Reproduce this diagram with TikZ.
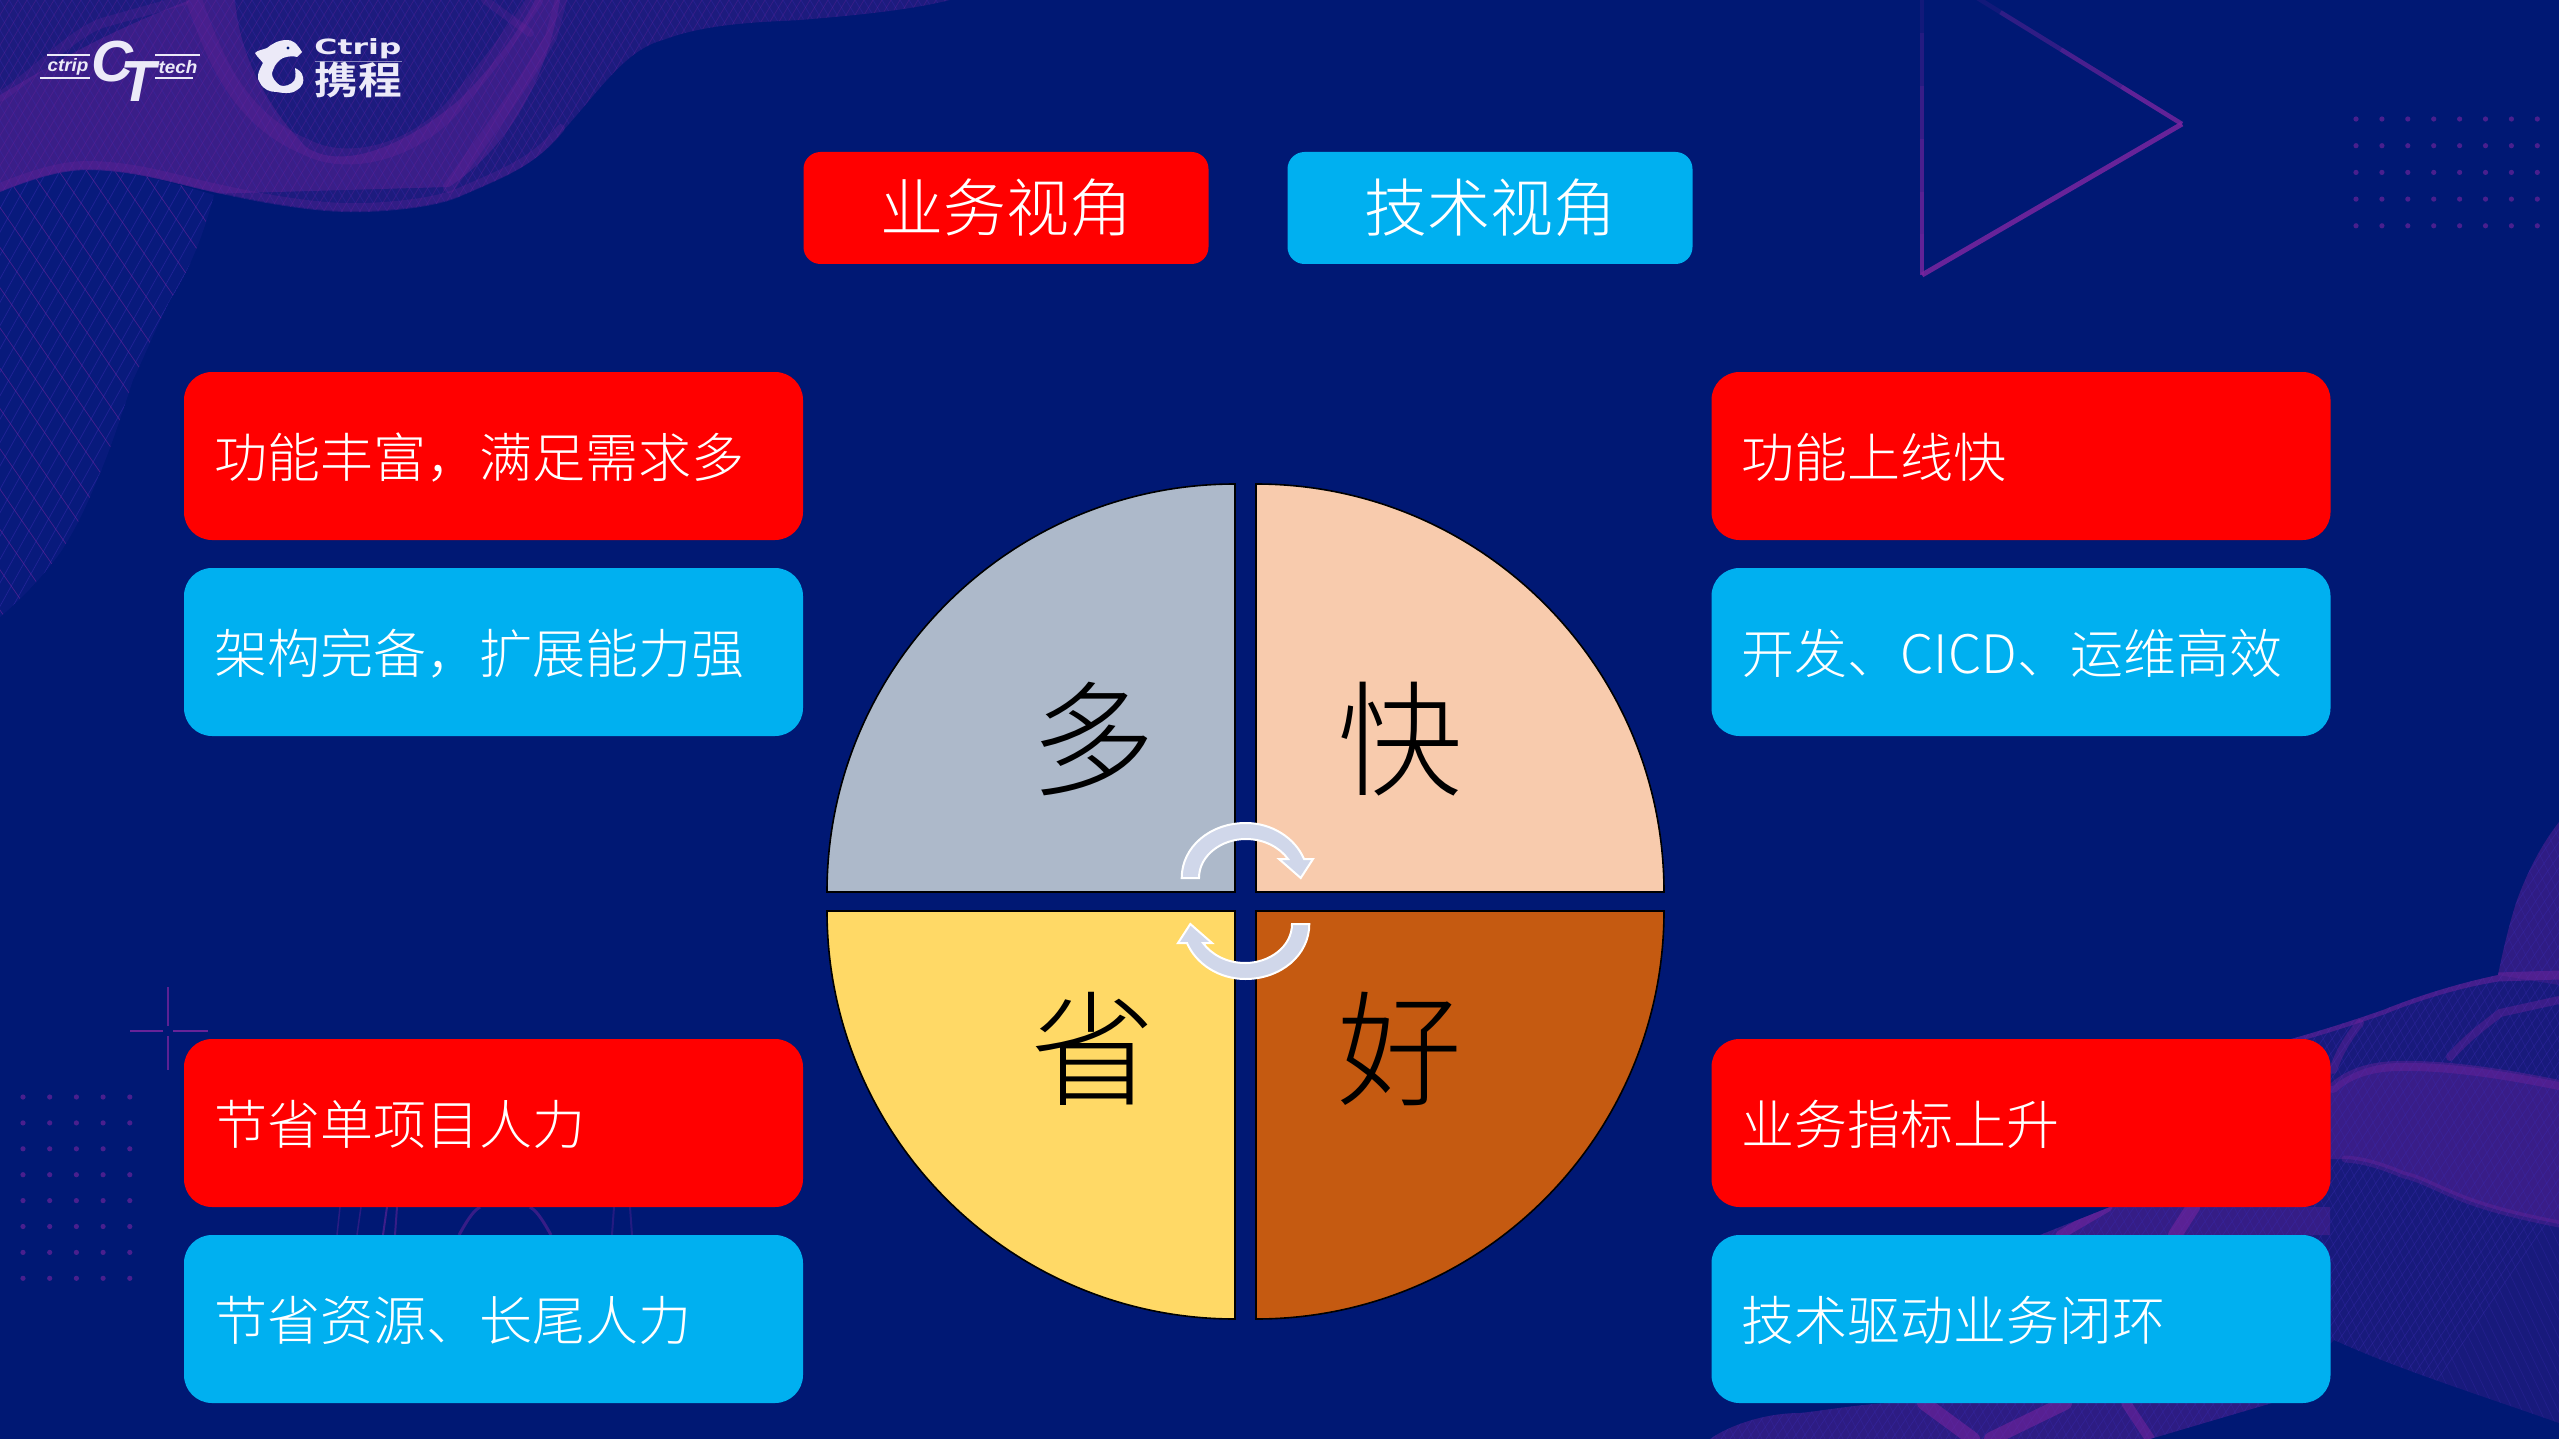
\documentclass[tikz,border=0pt]{standalone}
\usepackage{fontspec}
\setmainfont{Noto Sans CJK SC Light}[BoldFont={Noto Sans CJK SC Bold}]
\newfontfamily\logofont{Liberation Sans}
\newfontfamily\widefont{DejaVu Sans}
\usetikzlibrary{calc}
\definecolor{bgblue}{HTML}{001874}
\definecolor{wave}{HTML}{7A25A0}
\definecolor{waveb}{HTML}{3A2CB0}
\definecolor{boxred}{HTML}{FF0000}
\definecolor{boxblue}{HTML}{00B0F0}
\definecolor{qa}{HTML}{ADB9CA}
\definecolor{qb}{HTML}{F8CBAD}
\definecolor{qc}{HTML}{FFD966}
\definecolor{qd}{HTML}{C55A11}
\definecolor{arrowfill}{HTML}{D0D7EA}
\definecolor{logowhite}{HTML}{ECEAF8}
\tikzset{
  sidebox/.style={rounded corners=28pt,minimum height=168pt,text width=559pt,inner xsep=30pt,inner ysep=0pt,
    text height=50pt,text depth=6.8pt,
    align=left,text=white,font=\fontsize{53}{60}\selectfont},
  redbox/.style={sidebox,fill=boxred},
  bluebox/.style={sidebox,fill=boxblue},
  titlebox/.style={rounded corners=17pt,minimum width=405pt,minimum height=112pt,inner sep=0pt,text=white,
    font=\fontsize{63}{70}\selectfont},
  quad/.style={draw=black,line width=1.6pt},
  bigchar/.style={text=black,inner sep=0pt,font=\fontsize{125}{130}\selectfont},
  turn/.style={fill=arrowfill,draw=white,line width=2pt,line join=miter},
  band/.style={draw=wave,line cap=round},
  dotmark/.style={fill=wave,draw=none},
  logotext/.style={text=logowhite,inner sep=0pt},
  bar/.style={draw=logowhite,line width=2.6pt}
}
\newcommand{\hatchlines}[6]{% from, to, step, slope dx, colour, opacity
  \pgfmathsetmacro{\hnext}{#1+#3}
  \foreach \hx in {#1,\hnext,...,#2}{
    \draw[#5,opacity=#6,line width=.7pt] (\hx,0) -- (\hx+#4,1439);
  }
}
\begin{document}
\begin{tikzpicture}[x=1pt,y=-1pt]
\useasboundingbox (0,0) rectangle (2559,1439);
\fill[bgblue] (0,0) rectangle (2559,1439);

% ---------- top-left wave
\def\tlshape{(0,0) -- (0,192) .. controls (30,180) and (60,170) .. (87,170) .. controls (130,170) and (170,182) .. (204,190) .. controls (260,203) and (320,214) .. (367,212) .. controls (410,210) and (440,205) .. (459,197) .. controls (510,175) and (535,165) .. (561,133) .. controls (600,90) and (625,50) .. (663,40) .. controls (710,22) and (770,22) .. (800,20) .. controls (860,15) and (910,10) .. (950,0) -- cycle}
\fill[wave,opacity=.24] \tlshape;
\begin{scope}
  \clip \tlshape;
  \fill[wave,opacity=.32] (0,95) .. controls (60,60) and (100,35) .. (190,0) -- (235,0) .. controls (240,60) and (270,110) .. (306,147) .. controls (340,170) and (400,150) .. (459,100) .. controls (490,70) and (520,30) .. (535,0) -- (560,0) .. controls (550,60) and (520,140) .. (449,187) -- (0,200) -- cycle;
  \hatchlines{-900}{950}{9}{860}{waveb}{.35}
  \hatchlines{0}{1800}{9}{-860}{wave}{.30}
  \draw[band,line width=16pt,opacity=.22] (194,0) .. controls (215,60) and (240,120) .. (306,147) .. controls (350,170) and (420,150) .. (459,100) .. controls (490,65) and (515,30) .. (535,0);
  \draw[band,line width=12pt,opacity=.22] (449,187) .. controls (490,130) and (520,90) .. (551,37) -- (561,0);
  \draw[band,line width=8pt,opacity=.2] (485,0) -- (530,33);
  \draw[band,line width=10pt,opacity=.2] (0,97) .. controls (40,70) and (70,35) .. (102,23) -- (184,0);
\end{scope}
\draw[band,line width=8pt,opacity=.22] (0,187) .. controls (30,175) and (60,165) .. (87,165) .. controls (130,165) and (170,177) .. (204,185) .. controls (260,198) and (320,209) .. (367,207) .. controls (410,205) and (440,200) .. (459,192) .. controls (510,170) and (535,160) .. (561,128);

% ---------- left mesh below the wave
\def\lmshape{(0,192) .. controls (30,180) and (60,170) .. (87,170) .. controls (130,170) and (170,182) .. (214,195) .. controls (205,230) and (190,270) .. (170,300) .. controls (155,330) and (145,355) .. (133,380) .. controls (120,420) and (110,450) .. (100,473) .. controls (85,510) and (75,530) .. (60,553) .. controls (40,580) and (20,600) .. (0,617) -- cycle}
\fill[waveb,opacity=.14] \lmshape;
\begin{scope}
  \clip \lmshape;
  \hatchlines{-300}{1400}{13}{-800}{waveb}{.5}
  \hatchlines{-900}{220}{28}{1000}{wave}{.55}
\end{scope}

% ---------- bottom-right waves
\def\brshape{(2110,1207) -- (2291,1039) .. controls (2330,1028) and (2360,1018) .. (2383,1010) .. controls (2420,995) and (2460,983) .. (2498,975) .. controls (2505,940) and (2512,915) .. (2517,900) .. controls (2530,865) and (2545,840) .. (2559,822) -- (2559,1423) .. controls (2480,1395) and (2400,1370) .. (2334,1340) -- (2272,1403) -- (2150,1439) -- (1710,1439) .. controls (1730,1425) and (1765,1413) .. (1800,1413) .. controls (1830,1410) and (1880,1400) .. (1924,1403) -- (2040,1235) -- cycle}
\fill[wave,opacity=.2] \brshape;
\begin{scope}
  \clip \brshape;
  \fill[wave,opacity=.34] (2333,1086) .. controls (2350,1072) and (2375,1063) .. (2400,1063) .. controls (2450,1062) and (2510,1072) .. (2559,1082) -- (2559,1224) .. controls (2530,1218) and (2500,1212) .. (2467,1200) .. controls (2440,1190) and (2420,1178) .. (2404,1175) .. controls (2385,1167) and (2365,1160) .. (2345,1159) -- (2300,1159) -- (2300,1086) -- cycle;
  \fill[wave,opacity=.24] (2498,975) .. controls (2505,940) and (2512,915) .. (2517,900) .. controls (2530,865) and (2545,840) .. (2559,822) -- (2559,985) -- cycle;
  \fill[wave,opacity=.3] (2040,1235) -- (2108,1207) -- (2330,1207) -- (2330,1235) -- cycle;
  \fill[wave,opacity=.22] (1710,1439) .. controls (1730,1425) and (1765,1413) .. (1800,1413) .. controls (1830,1410) and (1880,1400) .. (1924,1403) -- (2272,1403) -- (2150,1439) -- cycle;
  \hatchlines{1200}{3400}{9}{-1000}{waveb}{.4}
  \hatchlines{900}{2600}{9}{700}{waveb}{.3}
  \draw[band,line width=9pt,opacity=.45] (2291,1039) .. controls (2330,1028) and (2360,1018) .. (2383,1010) .. controls (2420,995) and (2460,983) .. (2498,977) -- (2559,975);
  \draw[band,line width=8pt,opacity=.35] (2333,1070) .. controls (2340,1050) and (2350,1035) .. (2360,1023);
  \draw[band,line width=8pt,opacity=.35] (2450,1057) .. controls (2470,1035) and (2485,1025) .. (2500,1013) -- (2559,1000);
  \draw[band,line width=10pt,opacity=.35] (2333,1088) .. controls (2350,1072) and (2375,1066) .. (2400,1066) .. controls (2450,1065) and (2510,1075) .. (2559,1085);
  \draw[band,line width=7pt,opacity=.28] (2345,1159) .. controls (2365,1160) and (2385,1167) .. (2404,1175) .. controls (2420,1178) and (2440,1190) .. (2467,1200) .. controls (2500,1212) and (2530,1218) .. (2559,1224);
  \draw[band,line width=9pt,opacity=.55] (2060,1235) -- (2108,1207);
  \draw[band,line width=14pt,opacity=.55] (2175,1235) -- (2193,1207);
  \draw[band,line width=14pt,opacity=.55] (1924,1403) -- (1973,1439);
  \draw[band,line width=14pt,opacity=.55] (1991,1439) -- (2065,1403);
  \draw[band,line width=10pt,opacity=.5] (2126,1403) -- (2150,1439);
\end{scope}

% ---------- faint arcs behind the left boxes
\draw[wave,opacity=.35,line width=1.5pt] (337,1235) -- (340,1207);
\draw[wave,opacity=.35,line width=1.5pt] (357,1235) -- (361,1207);
\draw[wave,opacity=.5,line width=2pt] (383,1235) -- (387,1207);
\draw[wave,opacity=.45,line width=2pt] (395,1235) -- (397,1207);
\draw[wave,opacity=.45,line width=3pt] (459,1235) .. controls (470,1215) and (475,1210) .. (480,1207);
\draw[wave,opacity=.45,line width=3pt] (551,1235) .. controls (540,1215) and (535,1210) .. (530,1207);
\draw[wave,opacity=.3,line width=2pt] (612,1235) -- (614,1207);
\draw[wave,opacity=.3,line width=2pt] (632,1235) -- (630,1207);

% ---------- triangle
\foreach \oa/\sa/\sb in {.15/0/.18,.3/.18/.36,.45/.36/.54,.6/.54/.72,.72/.72/.86,.8/.86/1}{
  \draw[wave,line width=4.5pt,opacity=\oa,line cap=butt] ($(1922,-20)!\sa!(1922,275)$) -- ($(1922,-20)!\sb!(1922,275)$);
}
\foreach \oa/\sa/\sb in {.15/0/.25,.4/.25/.5,.6/.5/.75,.8/.75/1}{
  \draw[wave,line width=4.5pt,opacity=\oa,line cap=butt] ($(1940,-25)!\sa!(2182,124)$) -- ($(1940,-25)!\sb!(2182,124)$);
}
\draw[wave,line width=5pt,opacity=.85,line join=miter] (2182,124) -- (1922,275);

% ---------- dot grids
\foreach \dc in {0,...,7}{\foreach \dr in {0,...,4}{
  \fill[dotmark,opacity=.6] (2356+\dc*25.9,119+\dr*26.7) circle[radius=2.6pt];
}}
\foreach \dc in {0,...,4}{\foreach \dr in {0,...,7}{
  \fill[dotmark,opacity=.6] (23+\dc*26.7,1097+\dr*25.9) circle[radius=2.6pt];
}}

% ---------- cross
\draw[wave,line width=2.5pt,opacity=.85] (130,1031) -- (163,1031) (173,1031) -- (208,1031);
\draw[wave,line width=2.5pt,opacity=.75] (168,987) -- (168,1026) (168,1036) -- (168,1070);

% ---------- logos
\draw[bar] (47,55) -- (90,55) (40,78) -- (90,78) (155,55) -- (200,55) (155,78) -- (193,78);
\node[logotext,xscale=1.05,font=\logofont\bfseries\itshape\fontsize{18}{18}\selectfont] (logoa) at (68,67) {ctrip};
\node[logotext,xscale=1.05,font=\logofont\bfseries\itshape\fontsize{18}{18}\selectfont] (logob) at (178,67) {tech};
\node[logotext,font=\logofont\bfseries\itshape\fontsize{58}{58}\selectfont] (logoc) at (124,71) {C\kern-13pt\raisebox{-20pt}{T}};
\fill[logowhite] (302,52) .. controls (296,42) and (292,40) .. (287,40) .. controls (278,40) and (272,44) .. (267,48) .. controls (262,50) and (258,50) .. (255,53) .. controls (258,58) and (261,60) .. (263,63) .. controls (258,72) and (256,78) .. (260,83) .. controls (264,90) and (270,92) .. (277,92) .. controls (286,94) and (294,93) .. (297,90) .. controls (303,86) and (304,82) .. (303,77) .. controls (302,72) and (299,70) .. (295,68) .. controls (296,76) and (296,80) .. (292,83) .. controls (286,87) and (280,87) .. (277,83) .. controls (272,78) and (271,74) .. (273,70) .. controls (275,64) and (279,60) .. (283,58) .. controls (288,56) and (294,56) .. (297,57) -- cycle;
\fill[bgblue] (288,48) circle[radius=1.6pt];
\node[logotext,xscale=1.5,font=\widefont\bfseries\fontsize{21}{22}\selectfont] (logoe) at (358,49) {Ctrip};
\draw[logowhite,line width=1pt,opacity=.5] (315,62) -- (402,62);
\node[logotext,xscale=1.15,font=\bfseries\fontsize{38}{40}\selectfont] (logof) at (358,80) {携程};

% ---------- titles
\node[titlebox,fill=boxred] (tbiz) at (1006,208) {业务视角};
\node[titlebox,fill=boxblue] (ttech) at (1490,208) {技术视角};

% ---------- quadrants
\filldraw[quad,fill=qa] (1235,892) -- (827,892) .. controls (827,667) and (1010,484) .. (1235,484) -- cycle;
\filldraw[quad,fill=qb] (1256,892) -- (1664,892) .. controls (1664,667) and (1481,484) .. (1256,484) -- cycle;
\filldraw[quad,fill=qc] (1235,911) -- (827,911) .. controls (827,1136) and (1010,1319) .. (1235,1319) -- cycle;
\filldraw[quad,fill=qd] (1256,911) -- (1664,911) .. controls (1664,1136) and (1481,1319) .. (1256,1319) -- cycle;
\node[bigchar] (qduo) at (1093,739) {多};
\node[bigchar] (qkuai) at (1400,739) {快};
\node[bigchar] (qsheng) at (1093,1049) {省};
\node[bigchar] (qhao) at (1400,1049) {好};

% ---------- circular arrows
\def\turnshape{(1181.7,878) .. controls (1181.7,847) and (1210,823) .. (1245.7,823) .. controls (1272,823) and (1295,838) .. (1304,859) -- (1313,859) -- (1300.7,878) -- (1279,859) -- (1288,859) .. controls (1280,848) and (1265,839) .. (1245.7,839) .. controls (1222,839) and (1199,855) .. (1199,878) -- cycle}
\draw[turn] \turnshape;
\begin{scope}[rotate around={180:(1245.5,901)}]
  \draw[turn] \turnshape;
\end{scope}

% ---------- side boxes
\node[redbox] (la) at (493.5,456) {功能丰富，满足需求多};
\node[bluebox] (lb) at (493.5,652) {架构完备，扩展能力强};
\node[redbox] (lc) at (493.5,1123) {节省单项目人力};
\node[bluebox] (ld) at (493.5,1319) {节省资源、长尾人力};
\node[redbox] (ra) at (2021,456) {功能上线快};
\node[bluebox] (rb) at (2021,652) {开发、CICD、运维高效};
\node[redbox] (rc) at (2021,1123) {业务指标上升};
\node[bluebox] (rd) at (2021,1319) {技术驱动业务闭环};
\end{tikzpicture}
\end{document}
